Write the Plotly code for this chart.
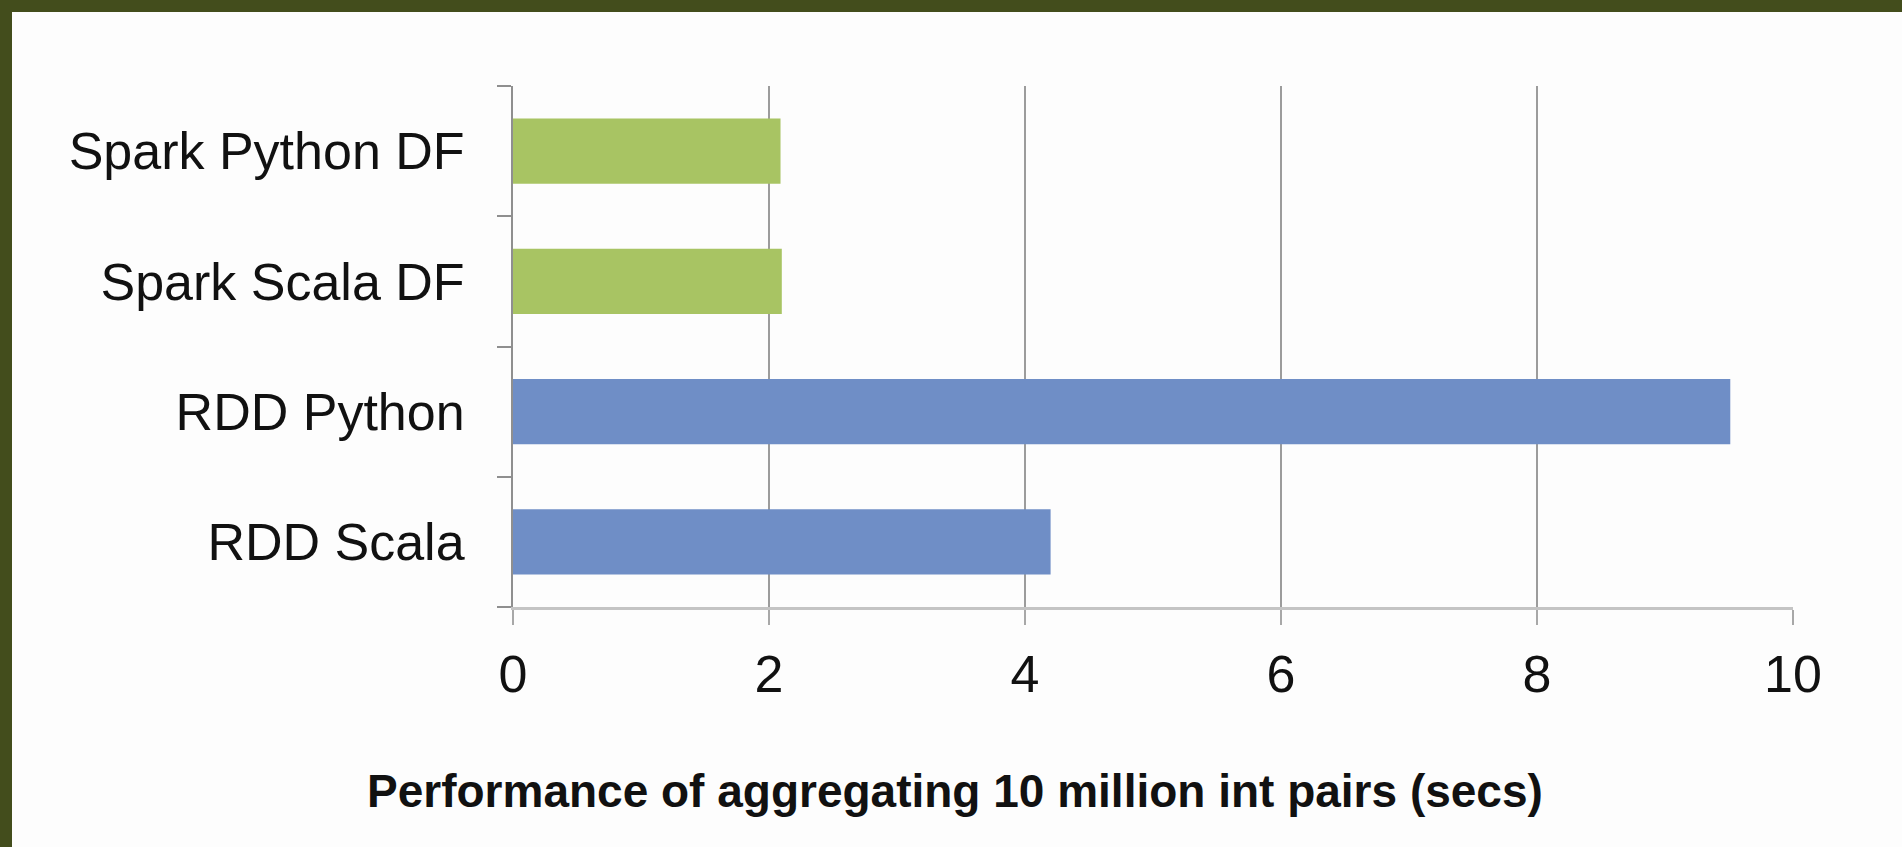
import plotly.graph_objects as go

categories = ["RDD Scala", "RDD Python", "Spark Scala DF", "Spark Python DF"]
seconds = [4.20, 9.51, 2.10, 2.09]
bar_colors = ["#6f8ec6", "#6f8ec6", "#a8c463", "#a8c463"]
x_ticks = [0, 2, 4, 6, 8, 10]
x_title = "Performance of aggregating 10 million int pairs (secs)"

W, H = 1902, 847
L, R, T, B = 513, 109, 86, 240
pw, ph = W - L - R, H - T - B


def px_x(p):
    return (p - L) / pw


def px_y(p):
    return (H - B - p) / ph


fig = go.Figure(go.Bar(
    x=seconds, y=categories, orientation="h",
    marker=dict(color=bar_colors, line=dict(width=0)),
    width=0.5, hoverinfo="x+y",
))

font_family = "Liberation Sans, Arial, sans-serif"
frame = "#434d1c"

fig.update_layout(
    width=W, height=H,
    margin=dict(l=L, r=R, t=T, b=B),
    paper_bgcolor="#fdfdfd",
    plot_bgcolor="#fdfdfd",
    showlegend=False,
    font=dict(family=font_family, color="#111111"),
    xaxis=dict(
        range=[0, 10], tickvals=x_ticks, ticktext=[str(v) for v in x_ticks],
        showgrid=True, gridcolor="#9c9c9c", gridwidth=2,
        zeroline=False,
        showline=True, linecolor="#c4c4c4", linewidth=3,
        ticks="outside", ticklen=15, tickwidth=2, tickcolor="#a8a8a8",
        tickfont=dict(size=52, family=font_family, color="#111111"),
        ticklabelstandoff=5,
        fixedrange=True,
    ),
    yaxis=dict(
        categoryorder="array", categoryarray=categories,
        showgrid=False, zeroline=False,
        showline=True, linecolor="#8f8f8f", linewidth=2,
        ticks="outside", ticklen=14, tickwidth=2, tickcolor="#8f8f8f",
        tickson="boundaries",
        tickfont=dict(size=52, family=font_family, color="#111111"),
        ticklabelstandoff=36,
        fixedrange=True,
    ),
    shapes=[
        dict(type="rect", xref="paper", yref="paper", layer="below",
             x0=px_x(-5), x1=px_x(W + 5), y0=px_y(12), y1=px_y(-5),
             fillcolor=frame, line=dict(width=0)),
        dict(type="rect", xref="paper", yref="paper", layer="below",
             x0=px_x(-5), x1=px_x(12), y0=px_y(H + 5), y1=px_y(-5),
             fillcolor=frame, line=dict(width=0)),
    ],
    annotations=[dict(
        text="<b>" + x_title + "</b>",
        xref="paper", yref="paper",
        x=px_x(955), y=px_y(791),
        xanchor="center", yanchor="middle", showarrow=False,
        font=dict(size=46, family=font_family, color="#111111"),
    )],
)

fig.write_html("out.html")
